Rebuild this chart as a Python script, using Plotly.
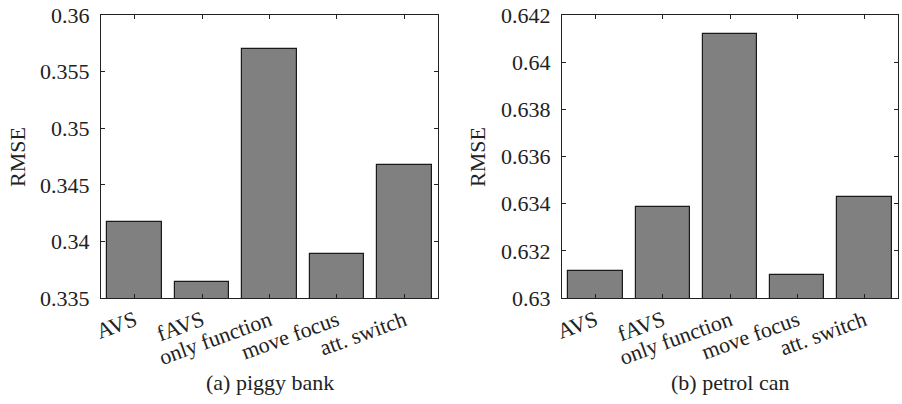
import plotly.graph_objects as go
from plotly.subplots import make_subplots

categories = ["AVS", "fAVS", "only function", "move focus", "att. switch"]
piggy_bank = [0.34169, 0.33639, 0.35697, 0.33889, 0.34678]
petrol_can = [0.63113, 0.63385, 0.64118, 0.63096, 0.63430]
piggy_ticks = [0.335, 0.34, 0.345, 0.35, 0.355, 0.36]
piggy_ticktext = ["0.335", "0.34", "0.345", "0.35", "0.355", "0.36"]
petrol_ticks = [0.63, 0.632, 0.634, 0.636, 0.638, 0.64, 0.642]
petrol_ticktext = ["0.63", "0.632", "0.634", "0.636", "0.638", "0.64", "0.642"]
captions = ["(a) piggy bank", "(b) petrol can"]
ytitle = "RMSE"

FONT = "'Liberation Serif', 'Times New Roman', Times, serif"
FS = 22
W, H = 902, 404

fig = make_subplots(rows=1, cols=2)
for i, vals in enumerate([piggy_bank, petrol_can]):
    fig.add_trace(
        go.Bar(
            x=list(range(len(categories))),
            y=vals,
            width=0.81,
            marker=dict(color="#808080", line=dict(color="#1a1a1a", width=1.2)),
            showlegend=False,
            hoverinfo="skip",
        ),
        row=1, col=i + 1,
    )

axis_common = dict(
    showline=True, linecolor="#222", linewidth=1.3, mirror="ticks",
    ticks="inside", ticklen=4, tickcolor="#222", tickwidth=1,
    showgrid=False, zeroline=False, automargin=False,
    tickfont=dict(family=FONT, size=FS, color="#222"),
)

fig.update_layout(
    width=W, height=H,
    margin=dict(l=0, r=0, t=0, b=0),
    plot_bgcolor="white", paper_bgcolor="white",
    font=dict(family=FONT, size=FS, color="#222"),
    bargap=0,
    xaxis=dict(domain=[101 / W, 438 / W], range=[-0.5, 4.5],
               tickvals=list(range(5)), ticktext=categories, tickangle=-20,
               **axis_common),
    xaxis2=dict(domain=[562 / W, 898 / W], range=[-0.5, 4.5],
                tickvals=list(range(5)), ticktext=categories, tickangle=-20,
                **axis_common),
    yaxis=dict(domain=[1 - 298 / H, 1 - 15 / H], range=[0.335, 0.36],
               tickvals=piggy_ticks, ticktext=piggy_ticktext,
               ticklabelstandoff=6,
               **axis_common),
    yaxis2=dict(domain=[1 - 298 / H, 1 - 15 / H], range=[0.63, 0.642],
                tickvals=petrol_ticks, ticktext=petrol_ticktext,
                ticklabelstandoff=6,
                **axis_common),
)

for cx, cap in zip([270 / W, 730 / W], captions):
    fig.add_annotation(text=cap, x=cx, y=1 - 382 / H, xref="paper", yref="paper",
                       xanchor="center", yanchor="middle",
                       showarrow=False, font=dict(family=FONT, size=FS, color="#222"))

for tx in [17 / W, 477 / W]:
    fig.add_annotation(text=ytitle, x=tx, y=1 - 157 / H, xref="paper", yref="paper",
                       xanchor="center", yanchor="middle",
                       textangle=-90, showarrow=False,
                       font=dict(family=FONT, size=FS, color="#222"))

fig.write_html("out.html", config={"displayModeBar": False},
               post_script="document.body.style.margin='0';")
